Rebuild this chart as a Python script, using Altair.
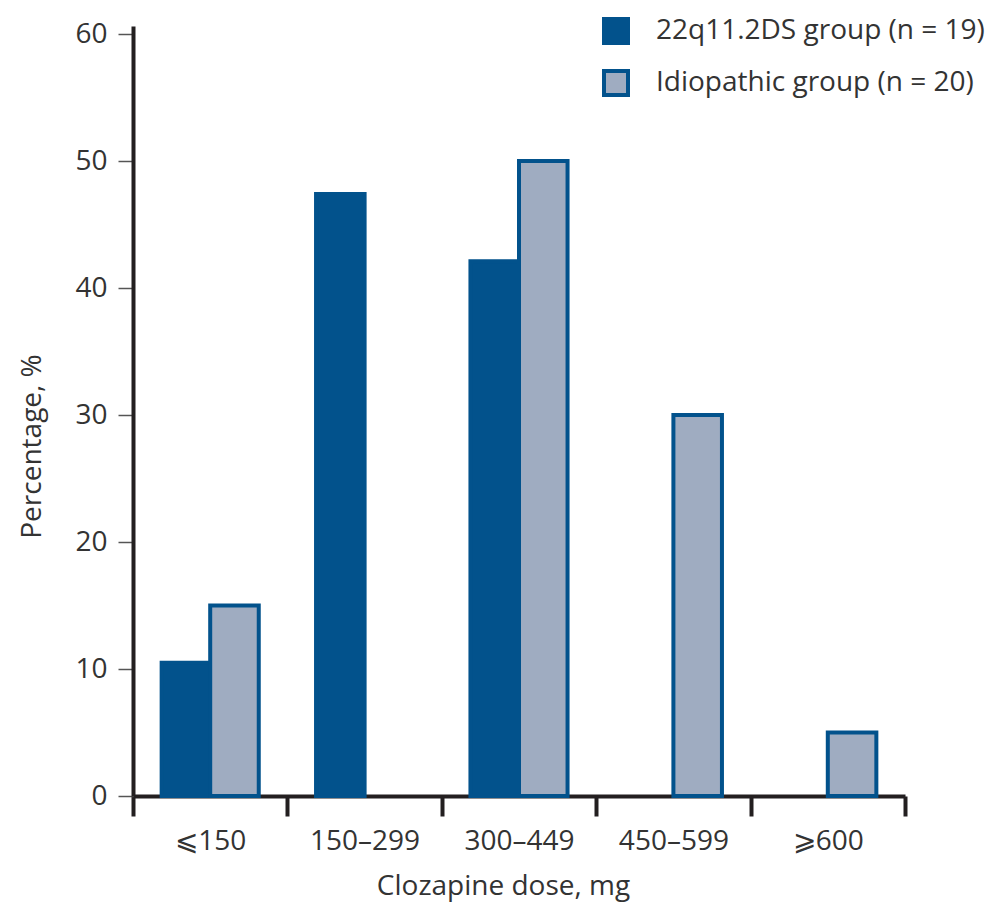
import altair as alt
import pandas as pd

categories = ["⩽150", "150–299", "300–449", "450–599", "⩾600"]
groups = ["22q11.2DS group (n = 19)", "Idiopathic group (n = 20)"]
deletion_pct = [10.5, 47.4, 42.1, 0, 0]
idiopathic_pct = [15, 0, 50, 30, 5]
y_ticks = [0, 10, 20, 30, 40, 50, 60]

rows = []
for c, a, b in zip(categories, deletion_pct, idiopathic_pct):
    rows.append({"dose": c, "group": groups[0], "value": a})
    rows.append({"dose": c, "group": groups[1], "value": b})
df = pd.DataFrame(rows)

FONT = "Open Sans"
DARK = "#02528C"
LIGHT = "#9FACC1"
AXIS = "#231F20"
TXT = "#333333"
FS = 28

chart = alt.Chart(df).transform_filter("datum.value > 0").mark_bar(
    stroke=DARK, strokeWidth=4
).encode(
    x=alt.X("dose:N", sort=categories,
            scale=alt.Scale(paddingInner=0, paddingOuter=0),
            axis=alt.Axis(title="Clozapine dose, mg", labelAngle=0, tickBand="extent",
                          domainColor=AXIS, domainWidth=4, tickColor=AXIS, tickWidth=4,
                          tickSize=20, labelPadding=11, labelFontSize=FS, labelColor=TXT,
                          labelFont=FONT, titleFont=FONT, titleFontSize=FS, titleFontWeight="normal",
                          titleColor=TXT, titleX=370, titleY=98, titleBaseline="alphabetic")),
    xOffset=alt.XOffset("group:N", sort=groups,
                        scale=alt.Scale(paddingInner=0, paddingOuter=0.59)),
    y=alt.Y("value:Q", scale=alt.Scale(domain=[0, 60.63], nice=False),
            axis=alt.Axis(title="Percentage, %", values=y_ticks, grid=False,
                          domainColor=AXIS, domainWidth=4, tickColor="#555", tickWidth=1.5,
                          tickSize=15, labelPadding=11, labelFontSize=FS, labelColor=TXT,
                          labelFont=FONT, titleFont=FONT, titleFontSize=FS, titleFontWeight="normal",
                          titleColor=TXT, titleX=-101, titleY=420, titleAngle=270,
                          titleAlign="center", titleBaseline="middle")),
    fill=alt.Fill("group:N", sort=groups,
                  scale=alt.Scale(domain=groups, range=[DARK, LIGHT]),
                  legend=alt.Legend(title=None, orient="none", legendX=469, legendY=-9,
                                    symbolType="square", symbolSize=576, symbolStrokeWidth=4,
                                    symbolStrokeColor=DARK, labelFontSize=FS, labelFont=FONT,
                                    labelColor=TXT, labelOffset=26, rowPadding=12,
                                    padding=0, labelLimit=500)),
).properties(
    width=772, height=770,
    autosize=alt.AutoSizeParams(type="none"),
    padding={"left": 125, "top": 18, "right": 89, "bottom": 110},
).configure_view(stroke=None)

chart.save("out.html", embed_options={"renderer": "svg", "actions": False})
